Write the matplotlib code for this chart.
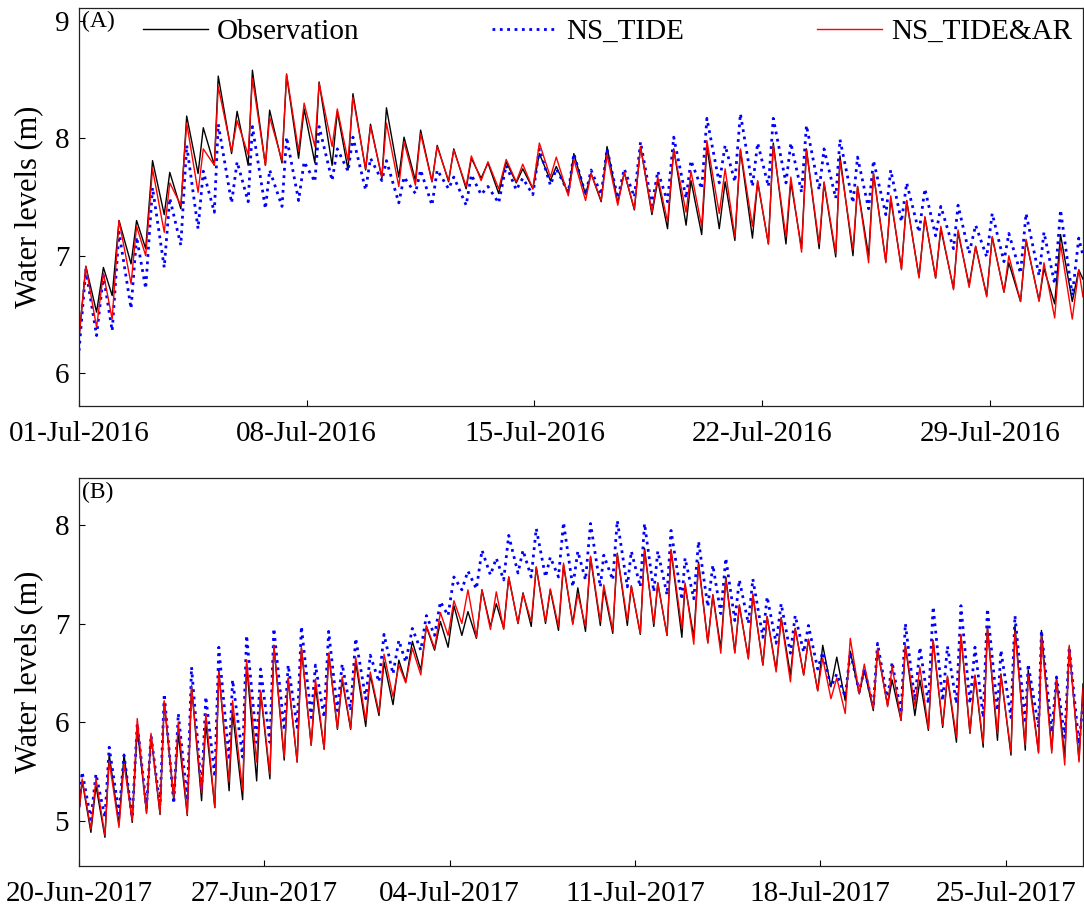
import matplotlib
matplotlib.use("Agg")
import matplotlib.pyplot as plt

plt.rcParams['font.family'] = ['Liberation Serif', 'DejaVu Serif']

# ---------------- Panel A (days since 01-Jul-2016 00:00) ----------------
tA = [0.00,
      0.21, 0.54, 0.75, 1.02, 1.23, 1.60, 1.77, 2.05, 2.26, 2.62,
      2.79, 3.13, 3.31, 3.66, 3.82, 4.16, 4.28, 4.69, 4.86, 5.20,
      5.33, 5.73, 5.86, 6.24, 6.38, 6.75, 6.92, 7.25, 7.38, 7.78,
      7.94, 8.27, 8.42, 8.81, 8.96, 9.31, 9.45, 9.83, 9.99, 10.34,
      10.50, 10.85, 11.01, 11.36, 11.52, 11.90, 12.06, 12.36, 12.57, 12.90,
      13.13, 13.44, 13.64, 13.95, 14.15, 14.49, 14.67, 15.04, 15.21, 15.57,
      15.74, 16.05, 16.23, 16.56, 16.76, 17.07, 17.26, 17.61, 17.79, 18.09,
      18.28, 18.66, 18.81, 19.14, 19.30, 19.68, 19.86, 20.16, 20.33, 20.70,
      20.86, 21.19, 21.34, 21.73, 21.88, 22.21, 22.36, 22.75, 22.90, 23.26,
      23.39, 23.79, 23.93, 24.27, 24.42, 24.80, 24.95, 25.28, 25.44, 25.82,
      26.00, 26.33, 26.49, 26.88, 27.02, 27.36, 27.56, 27.90, 28.07, 28.43,
      28.58, 28.94, 29.11, 29.51, 29.66, 29.99, 30.17, 30.53, 30.73,
      30.86]

obsA = [6.30,
        6.91, 6.52, 6.90, 6.66, 7.30, 6.93, 7.30, 7.06, 7.81, 7.35,
        7.71, 7.40, 8.19, 7.70, 8.09, 7.77, 8.53, 7.87, 8.23, 7.77,
        8.58, 7.77, 8.24, 7.79, 8.54, 7.83, 8.25, 7.79, 8.48, 7.77,
        8.23, 7.73, 8.38, 7.73, 8.12, 7.66, 8.26, 7.67, 8.01, 7.64,
        8.07, 7.63, 7.94, 7.63, 7.91, 7.57, 7.83, 7.66, 7.79, 7.53,
        7.80, 7.62, 7.74, 7.57, 7.87, 7.64, 7.76, 7.53, 7.87, 7.52,
        7.70, 7.46, 7.93, 7.45, 7.71, 7.39, 7.93, 7.35, 7.64, 7.23,
        7.91, 7.26, 7.64, 7.18, 7.93, 7.23, 7.63, 7.13, 7.90, 7.15,
        7.63, 7.10, 7.96, 7.10, 7.63, 7.06, 7.91, 7.06, 7.62, 6.99,
        7.85, 7.00, 7.59, 7.00, 7.70, 6.95, 7.49, 6.89, 7.47, 6.82,
        7.33, 6.81, 7.23, 6.72, 7.20, 6.75, 7.08, 6.66, 7.16, 6.69,
        6.94, 6.61, 7.13, 6.62, 6.89, 6.59, 7.18, 6.61, 6.88,
        6.80]

tideA = [6.19,
         6.88, 6.32, 6.83, 6.36, 7.20, 6.55, 7.16, 6.72, 7.58, 6.90,
         7.49, 7.09, 7.94, 7.23, 7.72, 7.37, 8.12, 7.45, 7.80, 7.46,
         8.10, 7.40, 7.73, 7.42, 8.01, 7.47, 7.80, 7.63, 8.10, 7.64,
         7.91, 7.72, 8.01, 7.56, 7.83, 7.64, 7.81, 7.45, 7.67, 7.53,
         7.73, 7.43, 7.73, 7.57, 7.67, 7.43, 7.69, 7.52, 7.59, 7.45,
         7.77, 7.56, 7.66, 7.52, 7.91, 7.60, 7.74, 7.54, 7.87, 7.52,
         7.73, 7.52, 7.91, 7.49, 7.74, 7.50, 7.97, 7.43, 7.72, 7.46,
         8.01, 7.49, 7.81, 7.57, 8.17, 7.62, 7.94, 7.63, 8.21, 7.59,
         7.96, 7.59, 8.17, 7.62, 7.96, 7.54, 8.11, 7.56, 7.91, 7.49,
         7.99, 7.45, 7.84, 7.40, 7.81, 7.35, 7.73, 7.29, 7.62, 7.20,
         7.57, 7.17, 7.42, 7.06, 7.43, 7.02, 7.26, 6.99, 7.36, 6.95,
         7.19, 6.85, 7.36, 6.83, 7.20, 6.76, 7.39, 6.66, 7.15,
         7.00]

arA = [6.30,
       6.91, 6.39, 6.85, 6.46, 7.30, 6.76, 7.25, 7.00, 7.74, 7.20,
       7.62, 7.43, 8.13, 7.54, 7.91, 7.77, 8.44, 7.89, 8.15, 7.86,
       8.51, 7.77, 8.18, 7.81, 8.55, 7.89, 8.30, 7.93, 8.47, 7.93,
       8.25, 7.81, 8.35, 7.74, 8.10, 7.67, 8.13, 7.59, 7.97, 7.60,
       8.04, 7.63, 7.93, 7.64, 7.90, 7.59, 7.85, 7.64, 7.80, 7.57,
       7.82, 7.63, 7.78, 7.57, 7.96, 7.67, 7.84, 7.51, 7.82, 7.47,
       7.70, 7.47, 7.86, 7.43, 7.71, 7.40, 7.93, 7.37, 7.67, 7.29,
       7.90, 7.37, 7.72, 7.25, 7.98, 7.36, 7.74, 7.16, 7.91, 7.25,
       7.64, 7.10, 7.94, 7.16, 7.67, 7.03, 7.90, 7.10, 7.63, 7.02,
       7.81, 7.05, 7.59, 6.94, 7.70, 6.94, 7.51, 6.88, 7.47, 6.81,
       7.33, 6.81, 7.25, 6.71, 7.22, 6.73, 7.08, 6.65, 7.16, 6.69,
       7.00, 6.61, 7.14, 6.61, 6.94, 6.47, 7.10, 6.46, 6.88,
       6.65]

xticksA = [0, 7, 14, 21, 28]
xlabelsA = ['01-Jul-2016', '08-Jul-2016', '15-Jul-2016', '22-Jul-2016', '29-Jul-2016']
yticksA = [6, 7, 8, 9]

# ---------------- Panel B (days since 20-Jun-2017 00:00) ----------------
tB = [0.00,
      0.12, 0.45, 0.64, 0.98, 1.14, 1.51, 1.70, 2.01, 2.20, 2.55,
      2.72, 3.06, 3.22, 3.58, 3.75, 4.09, 4.25, 4.63, 4.79, 5.13,
      5.28, 5.67, 5.80, 6.18, 6.33, 6.71, 6.86, 7.21, 7.36, 7.75,
      7.90, 8.24, 8.40, 8.77, 8.93, 9.26, 9.43, 9.76, 9.94, 10.26,
      10.45, 10.83, 11.00, 11.33, 11.52, 11.86, 12.08, 12.34, 12.59, 12.91,
      13.12, 13.43, 13.65, 13.94, 14.16, 14.46, 14.69, 15.01, 15.22, 15.54,
      15.76, 16.04, 16.23, 16.58, 16.77, 17.08, 17.27, 17.62, 17.80, 18.11,
      18.30, 18.65, 18.84, 19.13, 19.32, 19.69, 19.82, 20.16, 20.33, 20.71,
      20.86, 21.20, 21.36, 21.71, 21.86, 22.21, 22.36, 22.77, 22.89, 23.22,
      23.40, 23.75, 23.94, 24.24, 24.43, 24.77, 24.94, 25.28, 25.45, 25.83,
      25.99, 26.33, 26.52, 26.87, 27.05, 27.37, 27.55, 27.90, 28.09, 28.40,
      28.62, 28.94, 29.13, 29.47, 29.66, 30.00, 30.16, 30.54, 30.71, 31.05,
      31.21, 31.57, 31.76, 32.08, 32.26, 32.62, 32.80, 33.14, 33.31, 33.65,
      33.84, 34.15, 34.31, 34.69, 34.82, 35.20, 35.35, 35.74, 35.85, 36.24,
      36.35, 36.74, 36.92, 37.23, 37.40, 37.77,
      37.92]

obsB = [5.10,
        5.41, 4.89, 5.36, 4.84, 5.68, 4.97, 5.68, 4.99, 5.94, 5.09,
        5.87, 5.07, 6.21, 5.21, 5.89, 5.06, 6.37, 5.21, 5.99, 5.14,
        6.53, 5.31, 6.10, 5.22, 6.59, 5.41, 6.31, 5.43, 6.78, 5.62,
        6.44, 5.60, 6.75, 5.77, 6.36, 5.73, 6.70, 5.93, 6.43, 5.93,
        6.61, 5.96, 6.48, 6.07, 6.61, 6.18, 6.63, 6.41, 6.82, 6.53,
        6.97, 6.73, 7.02, 6.76, 7.18, 6.88, 7.12, 6.85, 7.34, 6.97,
        7.20, 6.95, 7.47, 7.00, 7.31, 6.97, 7.57, 7.00, 7.34, 6.93,
        7.59, 7.00, 7.36, 6.92, 7.67, 6.98, 7.35, 6.90, 7.71, 6.98,
        7.38, 6.89, 7.76, 6.97, 7.41, 6.88, 7.74, 6.86, 7.39, 6.86,
        7.62, 6.81, 7.29, 6.75, 7.47, 6.71, 7.18, 6.65, 7.29, 6.58,
        7.07, 6.53, 7.06, 6.48, 6.95, 6.48, 6.84, 6.32, 6.78, 6.36,
        6.66, 6.22, 6.72, 6.29, 6.53, 6.12, 6.73, 6.17, 6.43, 6.02,
        6.78, 6.07, 6.43, 5.92, 6.83, 5.95, 6.46, 5.80, 6.88, 5.89,
        6.47, 5.75, 6.97, 5.82, 6.49, 5.67, 6.98, 5.72, 6.53, 5.70,
        6.93, 5.72, 6.45, 5.65, 6.76, 5.62,
        6.39]

tideB = [5.15,
         5.50, 5.02, 5.48, 5.04, 5.75, 5.08, 5.67, 5.04, 5.99, 5.14,
         5.87, 5.16, 6.29, 5.18, 6.09, 5.21, 6.56, 5.31, 6.26, 5.45,
         6.76, 5.62, 6.43, 5.65, 6.88, 5.80, 6.54, 5.80, 6.95, 5.92,
         6.58, 5.95, 6.97, 6.05, 6.58, 6.05, 6.92, 6.12, 6.59, 6.12,
         6.85, 6.24, 6.68, 6.41, 6.89, 6.49, 6.83, 6.61, 6.95, 6.73,
         7.08, 6.88, 7.22, 7.08, 7.47, 7.34, 7.53, 7.35, 7.74, 7.49,
         7.66, 7.44, 7.89, 7.51, 7.74, 7.47, 7.96, 7.47, 7.67, 7.47,
         8.02, 7.37, 7.73, 7.44, 8.01, 7.37, 7.69, 7.44, 8.04, 7.37,
         7.73, 7.37, 8.01, 7.32, 7.73, 7.29, 7.94, 7.24, 7.66, 7.25,
         7.83, 7.17, 7.59, 7.10, 7.66, 7.03, 7.44, 7.00, 7.45, 6.86,
         7.27, 6.80, 7.20, 6.70, 7.08, 6.71, 6.98, 6.54, 6.71, 6.36,
         6.49, 6.26, 6.71, 6.31, 6.54, 6.16, 6.80, 6.22, 6.61, 6.09,
         7.00, 6.22, 6.76, 6.19, 7.17, 6.22, 6.77, 6.19, 7.18, 6.19,
         6.76, 6.05, 7.15, 6.12, 6.73, 6.05, 7.08, 5.99, 6.59, 5.95,
         6.93, 5.90, 6.46, 5.85, 6.76, 5.78,
         6.20]

arB = [5.10,
       5.43, 4.92, 5.43, 4.86, 5.61, 4.94, 5.58, 5.01, 6.04, 5.08,
       5.89, 5.08, 6.22, 5.24, 6.00, 5.07, 6.36, 5.29, 6.09, 5.14,
       6.51, 5.40, 6.22, 5.31, 6.63, 5.60, 6.32, 5.48, 6.78, 5.65,
       6.45, 5.60, 6.76, 5.77, 6.44, 5.73, 6.70, 5.94, 6.46, 5.94,
       6.66, 6.02, 6.51, 6.10, 6.69, 6.26, 6.58, 6.40, 6.75, 6.48,
       6.98, 6.75, 7.11, 6.88, 7.23, 7.00, 7.34, 6.86, 7.34, 6.94,
       7.32, 6.94, 7.47, 7.00, 7.30, 7.02, 7.57, 7.02, 7.35, 6.97,
       7.61, 6.99, 7.30, 6.97, 7.68, 7.02, 7.39, 6.93, 7.70, 7.03,
       7.38, 6.90, 7.74, 7.00, 7.41, 6.88, 7.75, 6.95, 7.41, 6.79,
       7.60, 6.80, 7.29, 6.70, 7.45, 6.70, 7.19, 6.64, 7.30, 6.58,
       7.07, 6.51, 7.05, 6.41, 6.95, 6.48, 6.84, 6.32, 6.65, 6.24,
       6.45, 6.09, 6.85, 6.29, 6.59, 6.14, 6.75, 6.16, 6.57, 6.02,
       6.78, 6.16, 6.56, 5.94, 6.83, 5.97, 6.47, 5.85, 6.89, 5.90,
       6.48, 5.79, 6.95, 5.89, 6.48, 5.70, 6.92, 5.77, 6.48, 5.69,
       6.87, 5.69, 6.43, 5.57, 6.78, 5.60,
       6.35]

xticksB = [0, 7, 14, 21, 28, 35]
xlabelsB = ['20-Jun-2017', '27-Jun-2017', '04-Jul-2017', '11-Jul-2017',
            '18-Jul-2017', '25-Jul-2017']
yticksB = [5, 6, 7, 8]

series_names = ['Observation', 'NS_TIDE', 'NS_TIDE&AR']

# ---------------- Figure ----------------
W, H = 1084, 909
fig = plt.figure(figsize=(W / 100, H / 100), dpi=100)
axA = fig.add_axes([79 / W, 1 - 406 / H, 1004 / W, 398 / H])
axB = fig.add_axes([79 / W, 1 - 866 / H, 1004 / W, 388 / H])


def draw(ax, t, obs, tide, ar, xlim, ylim, xt, xl, yt, tag, label_y):
    l1, = ax.plot(t, obs, color='black', lw=1.0, label=series_names[0])
    l2, = ax.plot(t, tide, color='blue', lw=2.0, ls=':', label=series_names[1])
    l3, = ax.plot(t, ar, color='red', lw=1.0, label=series_names[2])
    ax.set_xlim(*xlim)
    ax.set_ylim(*ylim)
    ax.set_xticks(xt)
    ax.set_xticklabels(xl)
    ax.set_yticks(yt)
    ax.tick_params(direction='in', length=4, width=0.8, labelsize=21)
    ax.tick_params(axis='x', pad=11)
    ax.tick_params(axis='y', pad=7)
    for s in ax.spines.values():
        s.set_linewidth(0.9)
        s.set_color('#222222')
    ax.set_ylabel('Water levels (m)', fontsize=22)
    ax.yaxis.set_label_coords(-0.036, 0.5)
    ax.text(0.003, label_y, tag, transform=ax.transAxes, fontsize=17,
            ha='left', va='center')
    return [l1, l2, l3]


handles = draw(axA, tA, obsA, tideA, arA, (0, 30.86), (5.72, 9.11),
               xticksA, xlabelsA, yticksA, '(A)', 0.965)
draw(axB, tB, obsB, tideB, arB, (0, 37.92), (4.55, 8.47),
     xticksB, xlabelsB, yticksB, '(B)', 0.964)

axA.legend(handles=handles, loc='center left', bbox_to_anchor=(0.0637, 0.94),
           ncol=3, frameon=False, fontsize=21, handlelength=2.23,
           handletextpad=0.3, columnspacing=4.56, borderpad=0,
           borderaxespad=0)

fig.savefig('out.png', dpi=100)
